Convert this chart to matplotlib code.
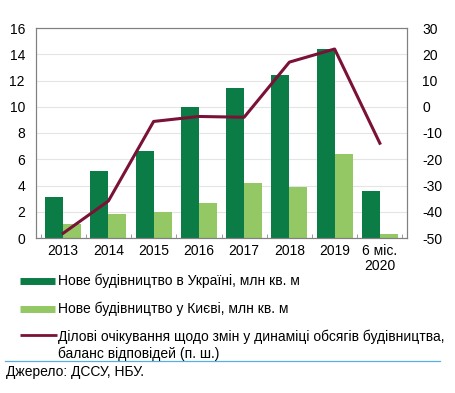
import matplotlib
matplotlib.use('Agg')
import matplotlib.pyplot as plt
import numpy as np

plt.rcParams['font.family'] = ['Liberation Sans', 'DejaVu Sans']
plt.rcParams['axes.unicode_minus'] = False

categories = ['2013', '2014', '2015', '2016', '2017', '2018', '2019', '6 міс.\n2020']
ukraine = [3.1, 5.1, 6.6, 10.0, 11.4, 12.4, 14.4, 3.6]
kyiv = [1.05, 1.8, 2.0, 2.7, 4.2, 3.9, 6.4, 0.3]
expectations = [-48.2, -35.9, -5.6, -3.7, -4.0, 17.0, 22.0, -13.9]

dark = '#0b7c45'
light = '#93c864'
maroon = '#7a1238'
fs = 10

fig = plt.figure(figsize=(4.56, 3.93), dpi=100)
ax = fig.add_axes([36 / 456, 1 - 238 / 393, (407 - 36) / 456, (238 - 28) / 393])
x = np.arange(len(categories))
w = 0.4
ax.bar(x - w / 2, ukraine, w, color=dark, zorder=2)
ax.bar(x + w / 2, kyiv, w, color=light, zorder=2)
ax.set_ylim(0, 16)
ax.set_yticks(range(0, 17, 2))
ax.set_xlim(-0.6, len(categories) - 0.4)
ax.set_xticks(x)
ax.set_xticklabels(categories, fontsize=fs, linespacing=1.1)
ax.set_xticks(np.arange(-0.5, len(categories), 1), minor=True)
ax.tick_params(axis='x', which='major', length=0, pad=4)
ax.tick_params(axis='x', which='minor', direction='in', length=3, color='#888888')
ax.tick_params(axis='y', length=0, labelsize=fs, pad=8)
ax.grid(axis='y', color='#e4e4e4', linewidth=0.8, zorder=0)
for s in ax.spines.values():
    s.set_color('#808080')
    s.set_linewidth(0.8)

ax2 = ax.twinx()
ax2.plot(x, expectations, color=maroon, linewidth=2.2, zorder=3)
ax2.set_ylim(-50, 30)
ax2.set_yticks(range(-50, 31, 10))
ax2.tick_params(axis='y', length=0, labelsize=fs, pad=11)
for s in ax2.spines.values():
    s.set_color('#808080')
    s.set_linewidth(0.8)

# legend drawn manually below the chart
def leg_row(y, color, lw, text):
    fig.add_artist(plt.Line2D([20 / 456, 55 / 456], [1 - y / 393] * 2, color=color,
                              linewidth=lw, solid_capstyle='butt'))
    fig.text(58 / 456, 1 - y / 393, text, fontsize=fs, va='center', ha='left')

leg_row(281, dark, 5, 'Нове будівництво в Україні, млн кв. м')
leg_row(309, light, 5, 'Нове будівництво у Києві, млн кв. м')
fig.add_artist(plt.Line2D([20 / 456, 57 / 456], [1 - 335 / 393] * 2, color=maroon,
                          linewidth=2, solid_capstyle='butt'))
fig.text(58 / 456, 1 - 330 / 393,
         'Ділові очікування щодо змін у динаміці обсягів будівництва,\nбаланс відповідей (п. ш.)',
         fontsize=fs, va='top', ha='left', linespacing=1.2)

fig.add_artist(plt.Line2D([5 / 456, 440 / 456], [1 - 361 / 393] * 2, color='#5aaee0', linewidth=0.9))
fig.text(6 / 456, 1 - 372 / 393, 'Джерело: ДССУ, НБУ.', fontsize=fs, va='center', ha='left')

fig.savefig('out.png', dpi=100)
